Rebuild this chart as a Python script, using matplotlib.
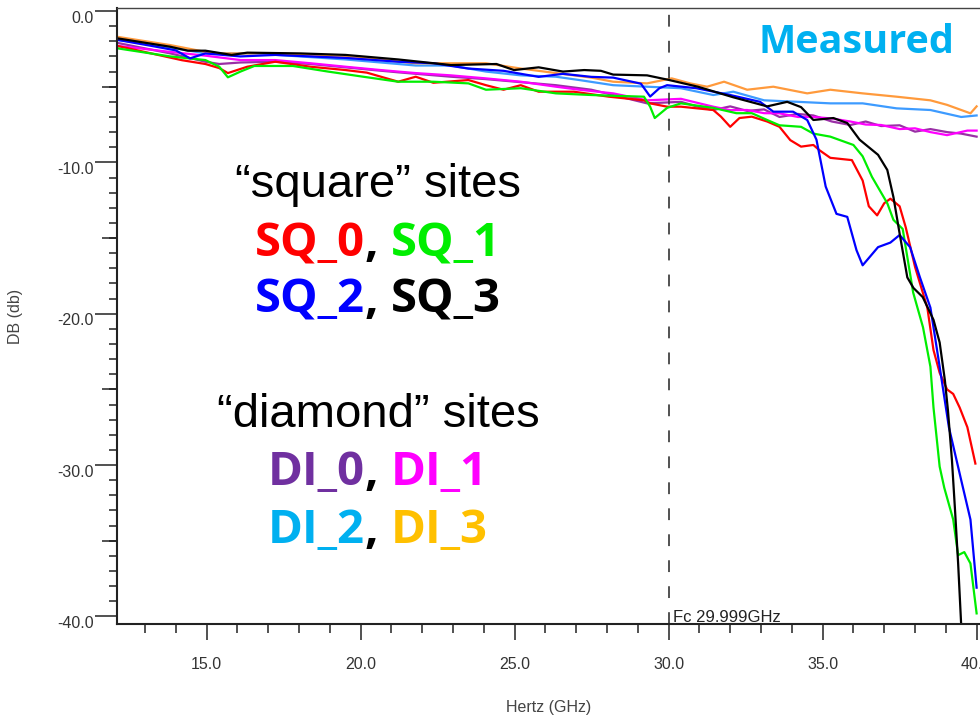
import matplotlib
matplotlib.use("Agg")
import matplotlib.pyplot as plt
import matplotlib.transforms as mtransforms
from matplotlib.ticker import MultipleLocator, FormatStrFormatter

plt.rcParams['lines.scale_dashes'] = False

# ---------------- measured insertion loss (dB) vs frequency (GHz) ----------------
sq0_ghz = [12.09, 13.2, 14.2, 14.96, 15.41, 15.69, 16.32, 17.23, 18.37, 19.51, 20.2, 21.22,
           21.79, 22.36, 23.5, 24.07, 24.64, 25.2, 25.78, 26.92, 28.06, 29.2, 29.4, 29.95,
           30.4, 31.45, 31.7, 32.0, 32.3, 32.7, 33.2, 33.6, 33.95, 34.3, 34.7, 34.9, 35.25,
           35.95, 36.3, 36.5, 36.77, 37.0, 37.2, 37.5, 37.7, 38.0, 38.4, 38.6, 38.8, 39.04,
           39.24, 39.45, 39.7, 39.96]
sq0_db = [-2.3, -2.8, -3.25, -3.5, -3.77, -4.1, -3.68, -3.35, -3.68, -3.9, -4.07, -4.67,
          -4.34, -4.74, -4.56, -4.9, -5.2, -4.9, -5.33, -5.33, -5.66, -5.9, -6.1, -6.32,
          -6.32, -6.54, -6.98, -7.65, -7.07, -6.98, -7.3, -7.65, -8.53, -8.96, -8.85, -9.2, -9.7,
          -9.85, -11.2, -12.9, -13.5, -12.7, -12.4, -12.9, -14.3, -16.9, -19.6, -22.4, -23.9, -25.0,
          -25.3, -26.2, -27.5, -29.9]

sq1_ghz = [12.09, 13.82, 14.96, 15.41, 15.69, 16.1, 16.55, 17.8, 18.94, 20.08, 21.22, 22.36,
           23.5, 24.07, 25.2, 26.34, 27.49, 28.2, 29.2, 29.4, 29.55, 29.95, 30.4, 31.45, 32.2,
           32.7, 33.2, 33.6, 34.3, 34.7, 35.25, 36.0, 36.3, 36.6, 37.1, 37.3, 37.6, 37.94,
           38.26, 38.5, 38.6, 38.8, 38.95, 39.24, 39.4, 39.6, 39.8, 40.0]
sq1_db = [-2.46, -3.0, -3.24, -3.68, -4.38, -4.0, -3.63, -3.63, -4.0, -4.34, -4.67, -4.67,
          -4.78, -5.2, -5.1, -5.44, -5.55, -5.6, -5.66, -6.32, -7.07, -6.4, -6.1, -6.4, -6.75,
          -6.75, -7.2, -7.55, -7.65, -8.1, -8.3, -8.85, -9.6, -10.95, -12.7, -13.8, -14.4, -18.6,
          -20.9, -23.5, -26.2, -30.1, -31.5, -33.6, -35.95, -35.75, -36.5, -39.8]

sq2_ghz = [12.09, 13.2, 14.0, 14.46, 14.96, 16.1, 17.23, 18.37, 19.51, 21.22, 22.36, 23.5,
           24.64, 25.78, 26.57, 27.49, 28.2, 29.1, 29.4, 29.7, 29.95, 30.9, 32.0, 32.97, 33.4,
           34.04, 34.5, 34.8, 35.1, 35.45, 35.8, 36.1, 36.3, 36.8, 37.2, 37.5, 37.84, 38.16,
           38.5, 38.8, 39.1, 39.5, 39.8, 40.0]
sq2_db = [-1.9, -2.3, -2.6, -3.13, -2.8, -3.0, -2.9, -3.0, -3.1, -3.35, -3.45, -3.8,
          -3.95, -4.35, -4.15, -4.35, -4.4, -4.8, -5.65, -5.1, -4.9, -5.1, -5.55, -6.0, -6.65,
          -6.65, -7.2, -8.5, -11.6, -13.4, -13.6, -15.8, -16.8, -15.6, -15.3, -14.8, -15.6, -17.6,
          -19.6, -23.5, -27.5, -31.0, -33.6, -38.1]

sq3_ghz = [12.09, 13.82, 14.39, 14.96, 15.81, 16.32, 18.03, 19.51, 21.22, 22.93, 24.41, 24.98,
           25.78, 26.57, 27.26, 27.8, 28.2, 29.3, 30.0, 30.95, 32.1, 33.2, 33.85, 34.3, 34.7,
           35.35, 35.8, 36.2, 36.8, 37.1, 37.3, 37.5, 37.75, 37.95, 38.25, 38.6, 38.8, 38.97,
           39.07, 39.2, 39.3, 39.4, 39.5]
sq3_db = [-1.8, -2.36, -2.62, -2.62, -2.9, -2.75, -2.8, -2.9, -3.2, -3.57, -3.5, -3.9,
          -3.72, -4.0, -3.9, -3.95, -4.2, -4.25, -4.55, -5.0, -5.7, -6.3, -6.0, -6.35, -7.2,
          -7.07, -7.4, -8.5, -9.5, -10.5, -12.3, -14.7, -17.6, -18.3, -18.9, -20.4, -21.9, -24.4,
          -26.4, -29.7, -33.0, -36.5, -40.6]

di0_ghz = [12.09, 13.82, 14.96, 15.41, 16.1, 17.23, 18.37, 20.42, 21.22, 22.93, 24.07, 25.2,
           26.34, 27.49, 28.2, 29.3, 30.4, 31.0, 31.45, 32.0, 32.55, 33.1, 33.6, 34.2, 34.7,
           35.3, 35.9, 36.4, 36.9, 37.5, 38.0, 38.5, 39.04, 39.5, 40.0]
di0_db = [-2.1, -2.8, -3.35, -3.5, -3.4, -3.35, -3.5, -3.9, -4.05, -4.34, -4.5, -4.7,
          -4.9, -5.2, -5.55, -6.1, -6.0, -6.35, -6.54, -6.3, -6.6, -6.5, -7.0, -6.8, -6.9,
          -7.3, -7.53, -7.3, -7.6, -7.55, -7.97, -7.8, -8.0, -8.1, -8.3]

di1_ghz = [12.09, 13.82, 14.96, 16.1, 17.23, 18.37, 19.51, 20.65, 21.79, 22.93, 24.07, 25.2,
           26.34, 27.1, 28.2, 29.3, 30.4, 31.0, 31.45, 32.0, 32.55, 33.1, 33.6, 34.2, 34.7,
           35.3, 35.9, 36.4, 36.9, 37.5, 38.0, 38.5, 39.04, 39.7, 40.0]
di1_db = [-2.3, -2.7, -2.95, -3.24, -3.24, -3.45, -3.68, -3.9, -4.1, -4.25, -4.45, -4.67,
          -5.0, -5.2, -5.44, -5.9, -5.8, -6.1, -6.32, -6.55, -6.54, -6.75, -6.76, -7.0, -7.0,
          -7.1, -7.3, -7.5, -7.53, -7.8, -7.75, -8.0, -8.2, -7.9, -7.9]

di2_ghz = [12.09, 13.5, 14.96, 16.55, 19.51, 21.22, 21.79, 22.93, 24.07, 25.2, 26.34, 27.1,
           28.2, 29.3, 30.4, 31.45, 32.1, 33.1, 34.2, 35.25, 36.3, 37.4, 38.5, 39.5, 40.0]
di2_db = [-1.9, -2.3, -2.8, -2.8, -3.2, -3.5, -3.6, -3.6, -4.0, -4.25, -4.34, -4.56,
          -4.9, -5.0, -5.1, -5.55, -5.33, -5.9, -6.0, -6.1, -6.1, -6.43, -6.54, -7.0, -6.9]

di3_ghz = [12.09, 13.82, 14.96, 15.41, 16.1, 17.23, 18.37, 20.08, 21.79, 22.93, 24.07, 25.2,
           26.34, 27.49, 28.2, 29.3, 30.1, 30.7, 31.25, 31.8, 32.55, 33.4, 34.5, 35.25, 36.3,
           37.4, 38.5, 39.04, 39.8, 40.0]
di3_db = [-1.7, -2.25, -2.7, -2.8, -2.8, -2.8, -2.9, -3.1, -3.45, -3.45, -3.45, -3.8,
          -4.1, -4.4, -4.67, -4.78, -4.45, -4.78, -5.0, -4.67, -5.2, -5.0, -5.44, -5.2, -5.44,
          -5.66, -5.9, -6.2, -6.76, -6.3]

cutoff_ghz = 29.999
cutoff_label = "Fc 29.999GHz"
x_title = "Hertz (GHz)"
y_title = "DB (db)"

# ---------------- figure ----------------
W, H = 980, 715
fig = plt.figure(figsize=(W / 100, H / 100), dpi=100)
L, R, T, B = 117, 980, 8, 624
ax = fig.add_axes([L / W, 1 - B / H, (R - L) / W, (B - T) / H])
ax.set_xlim(12.09, 40.11)
ax.set_ylim(-40.5, 0.2)

axis_col = '#222222'
text_col = '#333333'

lines = [
    (di0_ghz, di0_db, '#9a2fa6'),
    (di1_ghz, di1_db, '#ff00ff'),
    (di2_ghz, di2_db, '#3d9bff'),
    (di3_ghz, di3_db, '#ff9a3c'),
    (sq0_ghz, sq0_db, '#ff0000'),
    (sq1_ghz, sq1_db, '#00ee00'),
    (sq2_ghz, sq2_db, '#0000ff'),
    (sq3_ghz, sq3_db, '#000000'),
]
for gx, gy, col in lines:
    ax.plot(gx, gy, color=col, lw=1.6, solid_joinstyle='round')

ax.axvline(cutoff_ghz, color='#333333', lw=1.2, dashes=(8.5, 10.2))
ax.annotate(cutoff_label, xy=(cutoff_ghz, -40.5), xytext=(3, 1.2),
            textcoords='offset points', ha='left', va='baseline',
            fontsize=12, family='Liberation Sans', color='#222222')

# spines
for side in ('left', 'bottom'):
    ax.spines[side].set_linewidth(1.5)
    ax.spines[side].set_color(axis_col)
ax.spines['top'].set_linewidth(1.0)
ax.spines['top'].set_color('#444444')
ax.spines['right'].set_visible(False)

# ticks
ax.xaxis.set_major_locator(MultipleLocator(5))
ax.xaxis.set_minor_locator(MultipleLocator(1))
ax.xaxis.set_major_formatter(FormatStrFormatter('%.1f'))
ax.yaxis.set_major_locator(MultipleLocator(10))
ax.yaxis.set_minor_locator(MultipleLocator(1))
ax.yaxis.set_major_formatter(FormatStrFormatter('%.1f'))
ax.tick_params(axis='x', which='major', direction='out', length=11.5, width=1.1,
               color=axis_col, pad=12, labelcolor=text_col, labelsize=11.5)
ax.tick_params(axis='x', which='minor', direction='out', length=6.5, width=1.1, color=axis_col)
ax.tick_params(axis='y', which='major', direction='out', length=16, width=1.1,
               color=axis_col, pad=1, labelcolor=text_col, labelsize=11.5)
ax.tick_params(axis='y', which='minor', direction='out', length=6, width=1.1, color=axis_col)
for lbl in ax.get_xticklabels() + ax.get_yticklabels():
    lbl.set_family('Liberation Sans')

# y tick labels sit a little below their ticks
drop = mtransforms.ScaledTranslation(0, -4 / 72, fig.dpi_scale_trans)
for lbl in ax.get_yticklabels():
    lbl.set_transform(lbl.get_transform() + drop)

# intermediate y ticks every 5 dB
sec = ax.secondary_yaxis('left')
sec.set_yticks([-5, -15, -25, -35])
sec.tick_params(axis='y', which='major', direction='out', length=11, width=1.1,
                color=axis_col, labelleft=False)
sec.tick_params(axis='y', which='minor', length=0)
sec.spines['left'].set_visible(False)

ax.set_xlabel(x_title, fontsize=11.5, family='Liberation Sans', color='#444444')
ax.xaxis.set_label_coords(0.5, -0.123)
ax.set_ylabel(y_title, fontsize=11.5, family='Liberation Sans', color='#444444')
ax.yaxis.set_label_coords(-0.109, 0.5)

# ---------------- annotations ----------------
def fpos(px, py):
    return px / W, 1 - py / H

fig.text(*fpos(856, 53), "Measured", ha='center', va='baseline', color='#00b0f0',
         fontsize=28.5, fontweight='bold', family='Open Sans')

heading = dict(fontsize=34, family='Liberation Sans', color='black')
fig.text(*fpos(378, 197), "\u201csquare\u201d sites", ha='center', va='baseline', **heading)
fig.text(*fpos(378, 427), "\u201cdiamond\u201d sites", ha='center', va='baseline', **heading)

renderer = fig.canvas.get_renderer()
label_style = dict(fontsize=34, fontweight='bold', family='Open Sans')


def pair_line(first, first_col, second, second_col, cx, base):
    probe_a = fig.text(0, 0, "a a", **label_style)
    probe_b = fig.text(0, 0, "aa", **label_style)
    gap = (probe_a.get_window_extent(renderer).width
           - probe_b.get_window_extent(renderer).width)
    probe_a.remove()
    probe_b.remove()
    parts = [(first, first_col), (",", 'black'), (second, second_col)]
    arts = [fig.text(0, 0, s, color=c, ha='left', va='baseline', **label_style)
            for s, c in parts]
    widths = [a.get_window_extent(renderer).width for a in arts]
    total = sum(widths) + gap
    x = cx - total / 2
    for i, (a, w) in enumerate(zip(arts, widths)):
        a.set_position(fpos(x, base))
        x += w + (gap if i == 1 else 0)


pair_line("SQ_0", '#ff0000', "SQ_1", '#00ee00', 378, 256)
pair_line("SQ_2", '#0000ff', "SQ_3", '#000000', 378, 313)
pair_line("DI_0", '#7030a0', "DI_1", '#ff00ff', 378, 485)
pair_line("DI_2", '#00b0f0', "DI_3", '#ffc000', 378, 543)

fig.savefig("out.png", dpi=100)
